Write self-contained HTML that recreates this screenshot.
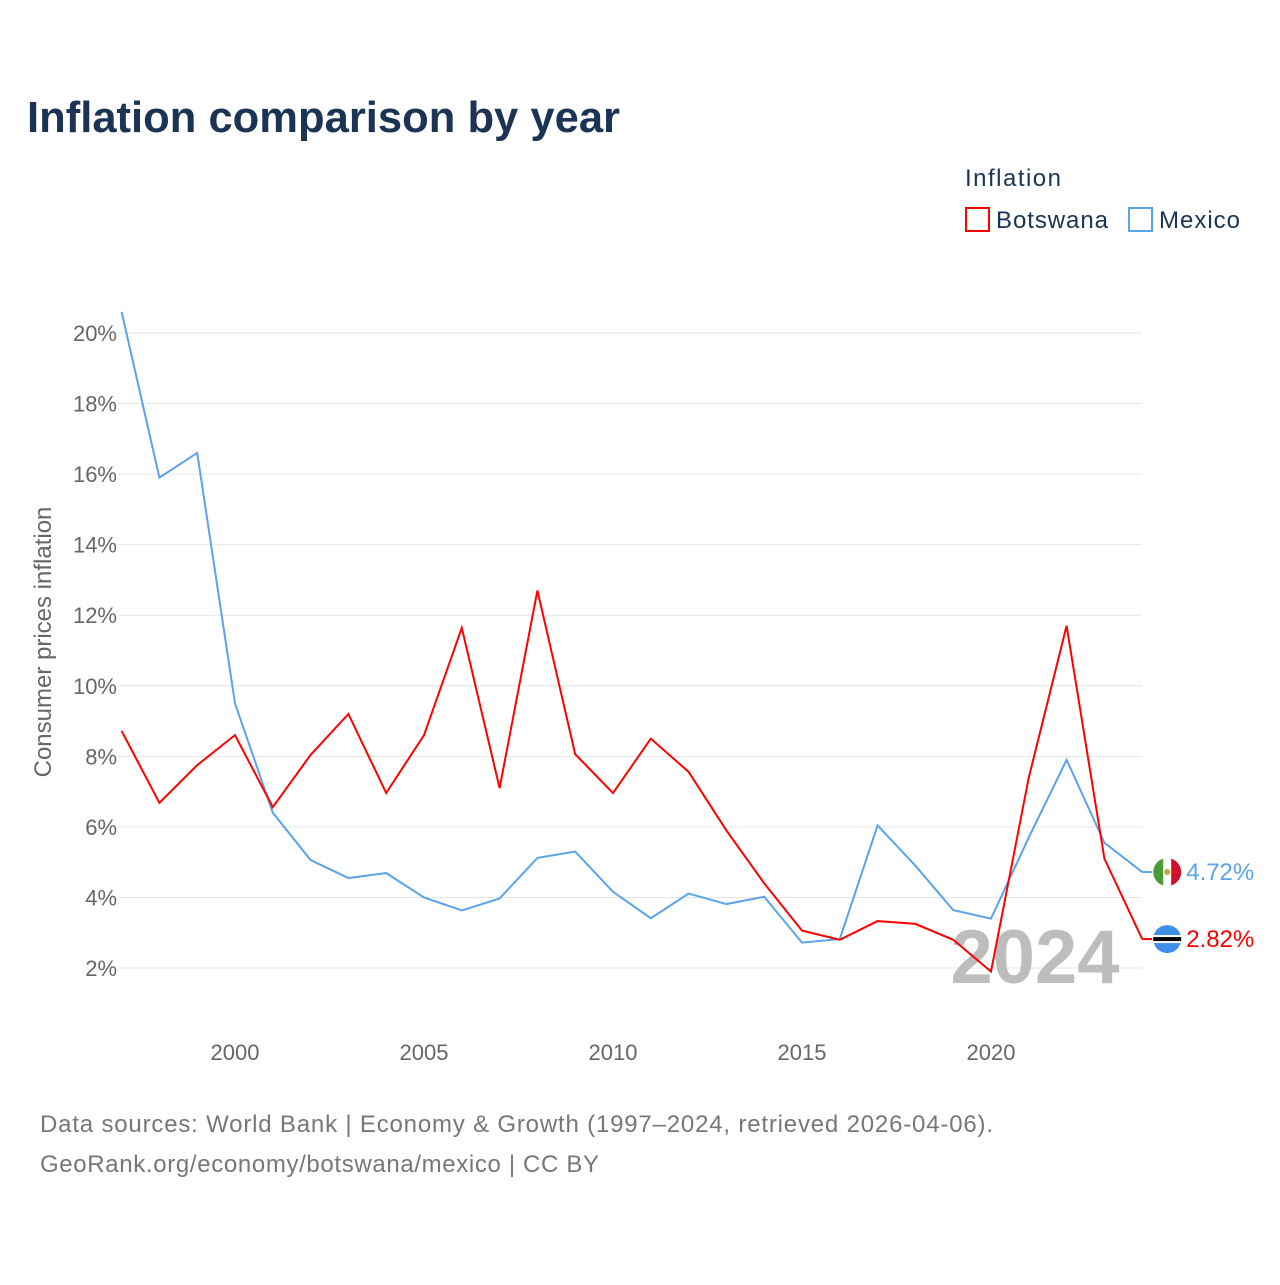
<!DOCTYPE html>
<html><head><meta charset="utf-8"><style>
body{margin:0;background:#fff;font-family:"Liberation Sans",sans-serif;}
</style></head><body>
<svg id="chart" width="1280" height="1280" xmlns="http://www.w3.org/2000/svg">
<rect width="1280" height="1280" fill="#fff"/>
<text x="27" y="132" font-size="44" font-weight="bold" fill="#1b3355" textLength="593" lengthAdjust="spacingAndGlyphs">Inflation comparison by year</text>
<text x="965" y="186" font-size="24" fill="#1b3355" textLength="96">Inflation</text>
<g><rect x="966" y="208" width="23" height="23" fill="none" stroke="#ff0000" stroke-width="2"/><text x="996" y="228" font-size="24" fill="#1b3355" textLength="112">Botswana</text></g>
<g><rect x="1129" y="208" width="23" height="23" fill="none" stroke="#5ba3ea" stroke-width="2"/><text x="1159" y="228" font-size="24" fill="#1b3355" textLength="81">Mexico</text></g>
<g id="grid"></g><g id="xt"></g><g id="yt"></g>
<text x="1035" y="983" font-size="76" font-weight="bold" fill="#bdbdbd" text-anchor="middle">2024</text>
<g id="lines"></g>
<text transform="translate(51,642) rotate(-90)" font-size="24" fill="#666" text-anchor="middle">Consumer prices inflation</text>
<text x="40" y="1132" font-size="24" fill="#777" textLength="953">Data sources: World Bank | Economy &amp; Growth (1997–2024, retrieved 2026-04-06).</text>
<text x="40" y="1172" font-size="24" fill="#777" textLength="559">GeoRank.org/economy/botswana/mexico | CC BY</text>
</svg>
<script>
const years=[1997,1998,1999,2000,2001,2002,2003,2004,2005,2006,2007,2008,2009,2010,2011,2012,2013,2014,2015,2016,2017,2018,2019,2020,2021,2022,2023,2024];
const mexico=[20.6,15.9,16.6,9.5,6.4,5.06,4.55,4.69,4.0,3.63,3.97,5.12,5.3,4.16,3.41,4.11,3.81,4.02,2.72,2.82,6.04,4.9,3.64,3.4,5.7,7.9,5.55,4.72];
const botswana=[8.72,6.68,7.75,8.6,6.56,8.04,9.2,6.96,8.6,11.64,7.1,12.7,8.06,6.96,8.5,7.56,5.9,4.4,3.06,2.8,3.33,3.25,2.8,1.9,7.4,11.7,5.1,2.82];
const yTicks=[2,4,6,8,10,12,14,16,18,20];
const xTicks=[2000,2005,2010,2015,2020];
const NS="http://www.w3.org/2000/svg";
const X=y=>121.6+(y-1997)*37.8;
const Y=v=>968-(v-2)*35.28;
function mk(t,a,p){const e=document.createElementNS(NS,t);for(const k in a)e.setAttribute(k,a[k]);p.appendChild(e);return e;}
const g=document.getElementById('grid'),yt=document.getElementById('yt'),xt=document.getElementById('xt'),L=document.getElementById('lines');
yTicks.forEach(v=>{
 const l=mk('line',{x1:118,x2:1142,y1:Y(v),y2:Y(v),stroke:'#e6e6e6','stroke-width':1},g);
 
 
 const t=mk('text',{x:117,y:Y(v)+8,'font-size':22,fill:'#666','text-anchor':'end'},yt);t.textContent=v+'%';
 
 
});
xTicks.forEach(v=>{
 const t=mk('text',{x:X(v),y:1060,'font-size':22,fill:'#666','text-anchor':'middle'},xt);t.textContent=v;
 
 
});
function line(d,c,name){
 const p=mk('polyline',{points:d.map((v,i)=>X(years[i])+','+Y(v)).join(' '),fill:'none',stroke:c,'stroke-width':2},L);
 
 
}
line(mexico,'#5ba3ea','mexico-line');
line(botswana,'#ff0000','botswana-line');
function end(d,c,name,flag){
 const v=d[d.length-1],x=X(years[years.length-1]),y=Y(v);
 mk('line',{x1:x,x2:x+10,y1:y,y2:y,stroke:c,'stroke-width':2},L);
 const f=mk('g',{},L);
 
 
 const cx=x+25;
 if(flag==='mx'){
  mk('circle',{cx:cx,cy:y,r:14,fill:'#fff'},f);
  mk('path',{d:`M${cx-4},${y-13.4} A14,14 0 0,0 ${cx-4},${y+13.4} Z`,fill:'#4a9a3a'},f);
  mk('path',{d:`M${cx+4},${y-13.4} A14,14 0 0,1 ${cx+4},${y+13.4} Z`,fill:'#d0102a'},f);
  mk('circle',{cx:cx,cy:y,r:3,fill:'#c8a040'},f);
 }else{
  mk('circle',{cx:cx,cy:y,r:14,fill:'#3d8fe8'},f);
  mk('rect',{x:cx-14,y:y-4,width:28,height:8,fill:'#fff'},f);
  mk('rect',{x:cx-14,y:y-2,width:28,height:4,fill:'#000'},f);
 }
 const t=mk('text',{x:x+44,y:y+8,'font-size':24,fill:c},L);t.textContent=v.toFixed(2)+'%';
 
 
}
end(mexico,'#5ba3ea','mexico','mx');
end(botswana,'#ff0000','botswana','bw');
</script>
</body></html>
